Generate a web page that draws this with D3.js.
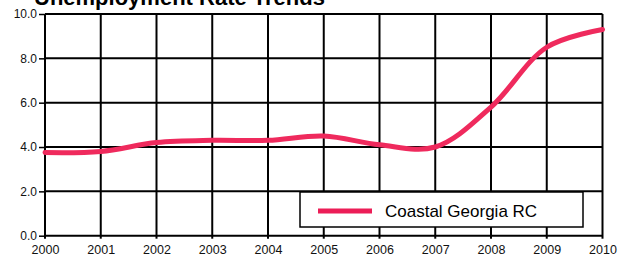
<!DOCTYPE html>
<html><head><meta charset="utf-8">
<script src="https://cdn.jsdelivr.net/npm/d3@7"></script>
<style>body{margin:0;background:#fff}svg{display:block}text{font-family:"Liberation Sans",Arial,sans-serif}</style>
</head><body>
<svg id="c" width="623" height="257"></svg>
<script>
const years = [2000,2001,2002,2003,2004,2005,2006,2007,2008,2009,2010];
const rates = [3.75,3.8,4.2,4.3,4.3,4.5,4.1,4.0,5.8,8.5,9.3];
const yTicks = [0,2,4,6,8,10];
const seriesName = "Coastal Georgia RC";
const title = "Unemployment Rate Trends";

const svg = d3.select("#c");
const x = d3.scaleLinear().domain([2000,2010]).range([45,602.5]);
const y = d3.scaleLinear().domain([0,10]).range([235.7,14]);

svg.append("text").attr("x",34).attr("y",5).attr("font-size",22).attr("font-weight","bold").attr("fill","#000").text(title);

// grid
const g = svg.append("g");
g.selectAll(".h").data(yTicks).join("line")
 .attr("x1",x(2000)).attr("x2",x(2010)).attr("y1",d=>y(d)).attr("y2",d=>y(d))
 .attr("stroke","#000").attr("stroke-width",2);
g.selectAll(".v").data(years).join("line")
 .attr("x1",d=>x(d)).attr("x2",d=>x(d)).attr("y1",y(10)).attr("y2",y(0)+3)
 .attr("stroke","#000").attr("stroke-width",2);

// y axis
const ya = svg.append("g").attr("transform",`translate(${x(2000)},0)`)
 .call(d3.axisLeft(y).tickValues(yTicks).tickFormat(d3.format(".1f")).tickSize(6).tickPadding(2));
ya.select(".domain").remove();
ya.selectAll("line").attr("stroke","#000").attr("stroke-width",1.5);
ya.selectAll("text").attr("font-size",12).attr("fill","#111").style("font-family","'Liberation Sans',Arial,sans-serif");

// x axis
const xa = svg.append("g").attr("transform",`translate(0,${y(0)})`)
 .call(d3.axisBottom(x).tickValues(years).tickFormat(d3.format("d")).tickSize(0).tickPadding(9));
xa.select(".domain").remove();
xa.selectAll("text").attr("font-size",12.5).attr("fill","#111").style("font-family","'Liberation Sans',Arial,sans-serif");

// line
const line = d3.line().x((d,i)=>x(years[i])).y(d=>y(d)).curve(d3.curveCatmullRom.alpha(0.5));
svg.append("path").datum(rates).attr("d",line).attr("fill","none")
 .attr("stroke","#ef2a5d").attr("stroke-width",5).attr("stroke-linecap","round");

// legend
const lg = svg.append("g");
lg.append("rect").attr("x",300).attr("y",192).attr("width",283).attr("height",35)
 .attr("fill","#fff").attr("stroke","#000").attr("stroke-width",1.5);
lg.append("line").attr("x1",318).attr("x2",372).attr("y1",211).attr("y2",211)
 .attr("stroke","#ec1d57").attr("stroke-width",5);
lg.append("text").attr("x",385).attr("y",216.5).attr("font-size",17).attr("fill","#000").text(seriesName);
</script>
</body></html>
